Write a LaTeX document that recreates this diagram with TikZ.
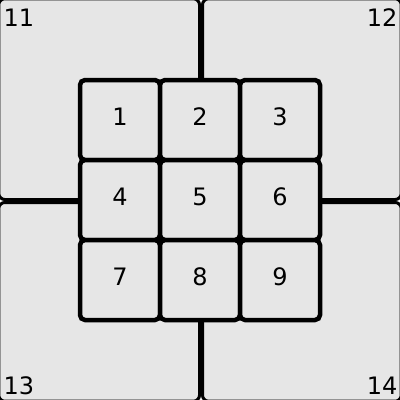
\documentclass[tikz,border=0pt]{standalone}
\usepackage{fontspec}
\setmainfont{DejaVu Sans}
\definecolor{qgray}{HTML}{E6E6E6}
\begin{document}
\begin{tikzpicture}[x=1pt,y=-1pt,
  quad/.style={draw=black, fill=qgray, line width=3pt, rounded corners=6pt, inner sep=0pt},
  cell/.style={draw=black, fill=qgray, line width=4.5pt, rounded corners=5pt, inner sep=0pt,
    minimum size=80pt, text depth=6.5pt, font=\fontsize{24}{28}\selectfont},
  lab/.style={inner sep=0pt, font=\fontsize{24}{28}\selectfont}]
\useasboundingbox (0,0) rectangle (400,400);
\begin{scope}
\clip (0,0) rectangle (400,400);
\node[quad, minimum width=200.7pt, minimum height=200.7pt] (q11) at (99.15,99.15) {};
\node[quad, minimum width=198.7pt, minimum height=200.7pt] (q12) at (301.85,99.15) {};
\node[quad, minimum width=200.7pt, minimum height=198.7pt] (q13) at (99.15,301.85) {};
\node[quad, minimum width=198.7pt, minimum height=198.7pt] (q14) at (301.85,301.85) {};
\end{scope}
\node[lab, anchor=base west] (l11) at (3.4,26) {11};
\node[lab, anchor=base east] (l12) at (397.5,26) {12};
\node[lab, anchor=base west] (l13) at (3.4,394) {13};
\node[lab, anchor=base east] (l14) at (397.5,394) {14};
\node[cell] (c1) at (120,120) {1};
\node[cell] (c2) at (200,120) {2};
\node[cell] (c3) at (280,120) {3};
\node[cell] (c4) at (120,200) {4};
\node[cell] (c5) at (200,200) {5};
\node[cell] (c6) at (280,200) {6};
\node[cell] (c7) at (120,280) {7};
\node[cell] (c8) at (200,280) {8};
\node[cell] (c9) at (280,280) {9};
\end{tikzpicture}
\end{document}
